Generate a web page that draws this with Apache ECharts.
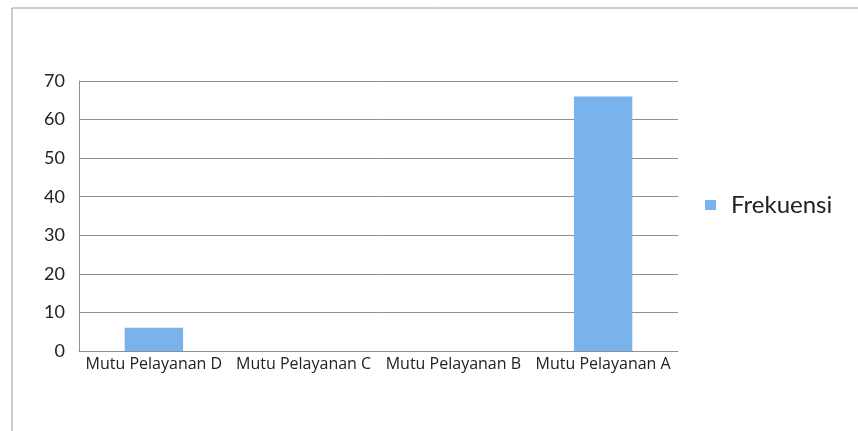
<!DOCTYPE html>
<html>
<head>
<meta charset="utf-8">
<script src="https://cdn.jsdelivr.net/npm/echarts@6/dist/echarts.min.js"></script>
<style>
html,body{margin:0;padding:0;background:#fff;}
#c{width:858px;height:431px;}
</style>
</head>
<body>
<div id="c"></div>
<script>
const categories = ["Mutu Pelayanan D", "Mutu Pelayanan C", "Mutu Pelayanan B", "Mutu Pelayanan A"];
const frekuensi = [6, 0, 0, 66];
const seriesName = "Frekuensi";
const yTicks = { min: 0, max: 70, interval: 10 };

const chart = echarts.init(document.getElementById('c'), null, { renderer: 'canvas' });
chart.setOption({
  animation: false,
  backgroundColor: '#ffffff',
  graphic: [{
    type: 'rect',
    shape: { x: 12, y: 8, width: 900, height: 500 },
    style: { fill: 'none', stroke: '#9a9a9a', lineWidth: 1 },
    silent: true
  }],
  legend: {
    data: [seriesName],
    orient: 'vertical',
    left: 700,
    top: 188,
    itemWidth: 11,
    itemHeight: 10,
    icon: 'rect',
    textStyle: { fontFamily: 'Lato', fontSize: 24, color: '#222', padding: [4, 0, 0, 10] }
  },
  grid: { left: 79, right: 180, top: 81, bottom: 80, containLabel: false },
  xAxis: {
    type: 'category',
    data: categories,
    axisLine: { show: true, lineStyle: { color: '#8f8f8f', width: 1 } },
    axisTick: { show: false },
    axisLabel: { interval: 0, margin: 5, fontFamily: 'Open Sans', fontSize: 16, color: '#222' }
  },
  yAxis: {
    type: 'value',
    min: yTicks.min,
    max: yTicks.max,
    interval: yTicks.interval,
    axisLine: { show: true, lineStyle: { color: '#8f8f8f', width: 1 } },
    axisTick: { show: false },
    splitLine: { show: true, lineStyle: { color: '#8f8f8f', width: 1 } },
    axisLabel: { margin: 14, fontFamily: 'Lato', fontSize: 18, color: '#222' }
  },
  series: [{
    name: seriesName,
    type: 'bar',
    data: frekuensi,
    barWidth: '39%',
    itemStyle: { color: '#7ab3ec', borderWidth: 0 }
  }]
});
</script>
</body>
</html>
